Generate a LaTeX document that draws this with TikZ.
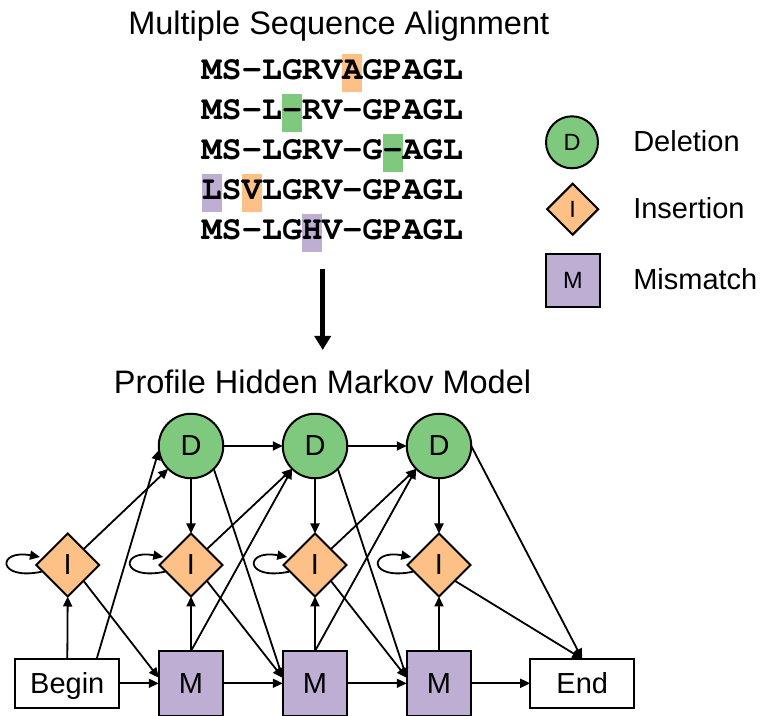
\documentclass[tikz,border=0pt]{standalone}
\usepackage[T1]{fontenc}
\usepackage{fontspec}
\setmainfont{Liberation Sans}
\usetikzlibrary{shapes.geometric,arrows.meta,calc}

\definecolor{delgreen}{HTML}{7FC97F}
\definecolor{insorange}{HTML}{FDC086}
\definecolor{matpurple}{HTML}{BEAED4}

% bold Courier for the aligned sequences
\newcommand\seqfont{\fontencoding{T1}\fontfamily{pcr}\fontseries{b}\fontshape{n}\fontsize{33.5}{33.5}\selectfont}

\tikzset{
  every node/.style={inner sep=0pt, outer sep=0pt, text depth=0pt},
  titletext/.style={font=\fontsize{32.5}{32.5}\selectfont},
  seqtext/.style={font=\seqfont, anchor=base west},
  legtext/.style={font=\fontsize{29}{29}\selectfont, anchor=base west},
  statebase/.style={draw, line width=2pt, font=\fontsize{29}{29}\selectfont},
  delstate/.style={statebase, circle, fill=delgreen, minimum size=64.5pt},
  insstate/.style={statebase, diamond, aspect=1, fill=insorange, minimum size=63pt},
  matstate/.style={statebase, rectangle, fill=matpurple, minimum size=64.5pt},
  endstate/.style={statebase, rectangle, fill=white, minimum width=104pt, minimum height=49pt},
  legdel/.style={delstate, minimum size=52pt, font=\fontsize{23.5}{23.5}\selectfont},
  legins/.style={insstate, minimum size=51pt, font=\fontsize{23.5}{23.5}\selectfont},
  legmat/.style={matstate, minimum size=53.7pt, font=\fontsize{23.5}{23.5}\selectfont},
  edge/.style={line width=1.8pt, -{Triangle[length=10pt,width=9pt]}},
  bigarrow/.style={line width=4.5pt, -{Triangle[length=14pt,width=16pt]}},
}

% highlighted alignment column: colour, row, column
\newcommand\seqcell[3]{\fill[#1] ({201.6+#3*20.1},{623-40*#2}) rectangle ++(20.1,38);}

\begin{document}
\begin{tikzpicture}[x=1pt,y=1pt]
\useasboundingbox (0,0) rectangle (763,715);

% ---------- multiple sequence alignment ----------
\node[titletext, anchor=base] (msaTitle) at (338.8,680.7) {Multiple Sequence Alignment};

\seqcell{insorange}{0}{7}
\seqcell{delgreen}{1}{4}
\seqcell{delgreen}{2}{9}
\seqcell{matpurple}{3}{0}
\seqcell{insorange}{3}{2}
\seqcell{matpurple}{4}{5}

\node[seqtext] (seq1) at (201.6,635) {MS-LGRVAGPAGL};
\node[seqtext] (seq2) at (201.6,595) {MS-L-RV-GPAGL};
\node[seqtext] (seq3) at (201.6,555) {MS-LGRV-G-AGL};
\node[seqtext] (seq4) at (201.6,515) {LSVLGRV-GPAGL};
\node[seqtext] (seq5) at (201.6,475) {MS-LGHV-GPAGL};

% ---------- legend ----------
\node[legdel] (legD) at (572,572.7) {D};
\node[legins] (legI) at (572.7,505.8) {I};
\node[legmat] (legM) at (572.8,434.5) {M};
\node[legtext] (legDtext) at (633.3,563.3) {Deletion};
\node[legtext] (legItext) at (633.3,496.7) {Insertion};
\node[legtext] (legMtext) at (633.3,425) {Mismatch};

% ---------- arrow to the model ----------
\coordinate (arrowTop) at (322.7,445.7);
\coordinate (arrowTip) at (322.7,365);
\draw[bigarrow] (arrowTop) -- (arrowTip);

% ---------- profile HMM ----------
\node[titletext, anchor=base] (hmmTitle) at (322.5,321.7) {Profile Hidden Markov Model};

\node[delstate] (D1) at (191,269) {D};
\node[delstate] (D2) at (315,269) {D};
\node[delstate] (D3) at (439,269) {D};

\node[insstate] (I0) at (67.7,150) {I};
\node[insstate] (I1) at (191,150) {I};
\node[insstate] (I2) at (315,150) {I};
\node[insstate] (I3) at (439,150) {I};

\node[endstate] (begin) at (67.3,31.7) {Begin};
\node[matstate] (M1) at (191,31.7) {M};
\node[matstate] (M2) at (315,31.7) {M};
\node[matstate] (M3) at (439,31.7) {M};
\node[endstate] (end) at (582.2,31.7) {End};

% self loops on the insert states
\foreach \n in {I0,I1,I2,I3}
  \draw[edge] ($(\n)+(-26,-6.7)$) .. controls ($(\n)+(-71,-16)$) and ($(\n)+(-71,16)$) .. ($(\n)+(-27.7,8)$);

% from Begin
\draw[edge] (begin.north) -- (I0.south);
\draw[edge] ([xshift=29.4pt]begin.north) -- (D1.187);
\draw[edge] (begin.east) -- (M1.west);
\draw[edge] (I0.north east) -- (D1.south west);
\draw[edge] (I0.south east) -- ([yshift=5.5pt]M1.west);

% column 1 -> column 2
\draw[edge] (D1.east) -- (D2.west);
\draw[edge] (D1.south) -- (I1.north);
\draw[edge] (D1.south east) -- ([yshift=5.5pt]M2.west);
\draw[edge] (I1.north east) -- (D2.south west);
\draw[edge] (I1.south east) -- ([yshift=5.5pt]M2.west);
\draw[edge] (M1.north) -- (I1.south);
\draw[edge] (M1.north) -- (D2.south west);
\draw[edge] (M1.east) -- (M2.west);

% column 2 -> column 3
\draw[edge] (D2.east) -- (D3.west);
\draw[edge] (D2.south) -- (I2.north);
\draw[edge] (D2.south east) -- ([yshift=5.5pt]M3.west);
\draw[edge] (I2.north east) -- (D3.south west);
\draw[edge] (I2.south east) -- ([yshift=5.5pt]M3.west);
\draw[edge] (M2.north) -- (I2.south);
\draw[edge] (M2.north) -- (D3.south west);
\draw[edge] (M2.east) -- (M3.west);

% column 3 -> End
\draw[edge] (D3.south) -- (I3.north);
\draw[edge] (D3.east) -- (end.north);
\draw[edge] (I3.south east) -- (end.north);
\draw[edge] (M3.north) -- (I3.south);
\draw[edge] (M3.east) -- (end.west);
\end{tikzpicture}
\end{document}
